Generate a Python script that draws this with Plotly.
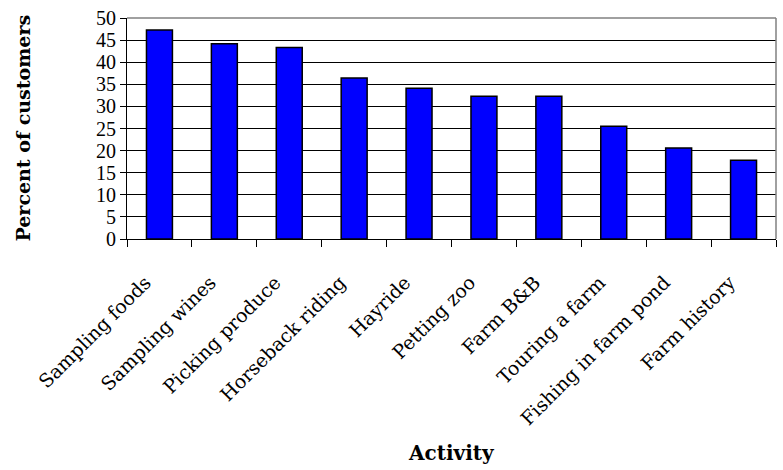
import plotly.graph_objects as go

# Share of customers interested in each on-farm activity
activities = [
    "Sampling foods", "Sampling wines", "Picking produce", "Horseback riding",
    "Hayride", "Petting zoo", "Farm B&B", "Touring a farm",
    "Fishing in farm pond", "Farm history",
]
percent_customers = [47.3, 44.2, 43.3, 36.4, 34.1, 32.3, 32.3, 25.5, 20.6, 17.8]
y_ticks = [0, 5, 10, 15, 20, 25, 30, 35, 40, 45, 50]

WIDE_SERIF = "DejaVu Serif, serif"
SERIF = "Liberation Serif, Times New Roman, serif"

fig = go.Figure(
    go.Bar(
        x=activities,
        y=percent_customers,
        marker=dict(color="#0000FF", line=dict(color="black", width=1.5)),
    )
)

fig.update_layout(
    width=783,
    height=470,
    margin=dict(l=127, r=7, t=16, b=231),
    paper_bgcolor="white",
    plot_bgcolor="white",
    bargap=0.6,
    showlegend=False,
    font=dict(family=SERIF, color="black"),
    shapes=[
        # light frame along the top and right edges of the plotting area
        dict(type="line", xref="paper", yref="paper", x0=0, x1=1, y0=1, y1=1,
             line=dict(color="#808080", width=1.5)),
        dict(type="line", xref="paper", yref="paper", x0=1, x1=1, y0=0, y1=1,
             line=dict(color="#808080", width=1.5)),
    ],
    annotations=[
        dict(text="<b>Percent of customers</b>", xref="paper", yref="paper",
             x=0, y=0.5, xanchor="center", yanchor="middle", xshift=-105,
             textangle=-90, showarrow=False,
             font=dict(family=WIDE_SERIF, size=19, color="black")),
        dict(text="<b>Activity</b>", xref="paper", yref="paper",
             x=0.5, y=0, xanchor="center", yanchor="middle", yshift=-214,
             showarrow=False,
             font=dict(family=WIDE_SERIF, size=20, color="black")),
    ],
)

fig.update_xaxes(
    tickangle=-45,
    tickfont=dict(family=WIDE_SERIF, size=19, color="black"),
    ticklabelstandoff=24,
    ticklabelshift=-14,
    showline=True, linecolor="black", linewidth=1,
    ticks="outside", tickson="boundaries", ticklen=7, tickcolor="black",
    showgrid=False,
)

fig.update_yaxes(
    range=[0, 50],
    tickvals=y_ticks,
    tickfont=dict(family=SERIF, size=20, color="black"),
    showline=True, linecolor="black", linewidth=1,
    ticks="outside", ticklen=6, tickcolor="black",
    showgrid=True, gridcolor="black", gridwidth=1,
    zeroline=False,
)

fig.write_html("out.html")
